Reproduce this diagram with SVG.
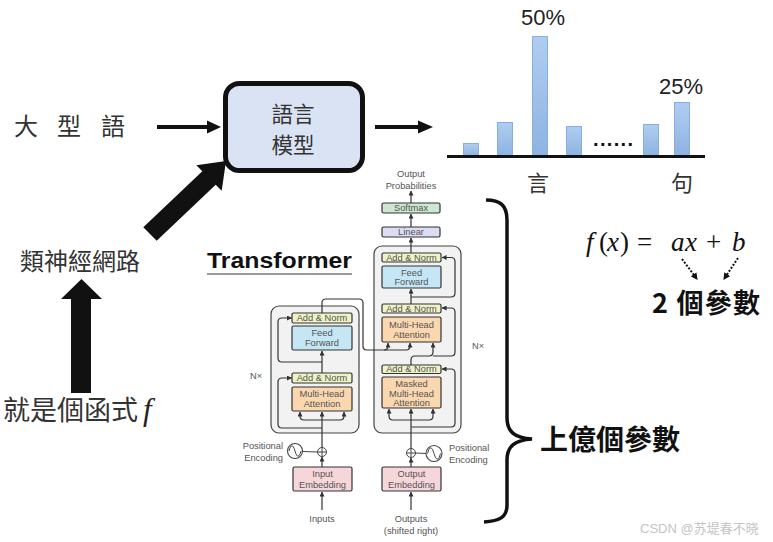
<svg xmlns="http://www.w3.org/2000/svg" width="773" height="542" viewBox="0 0 773 542">
<defs>
<style>
.cjk{font-family:"Noto Sans CJK TC","Noto Sans CJK SC",sans-serif;fill:#333}
.cjkb{font-family:"Noto Sans CJK TC","Noto Sans CJK SC",sans-serif;fill:#111;font-weight:bold}
.t{font-family:"Liberation Sans",Arial,sans-serif;font-size:9.3px;fill:#555;text-anchor:middle}
.blk{stroke:#333;stroke-width:1.2}
.ln{fill:none;stroke:#333;stroke-width:1.2}
.ar{marker-end:url(#a)}
.big{fill:#111}
.an{fill:#eef3c6}
.ff{fill:#c5e6f5}
.mha{fill:#fbd7b0}
.emb{fill:#f6d6da}
.bar{fill:url(#bg);stroke:#86aee0;stroke-width:1}
.math{font-family:"Liberation Serif","DejaVu Serif",serif;font-size:27px;fill:#111}
</style>
<marker id="a" viewBox="0 0 6 6" refX="5.5" refY="3" markerWidth="5" markerHeight="5" markerUnits="userSpaceOnUse" orient="auto"><path d="M0,0L6,3L0,6z" fill="#333"/></marker>
<marker id="d" viewBox="0 0 6 6" refX="5" refY="3" markerWidth="7" markerHeight="7" markerUnits="userSpaceOnUse" orient="auto"><path d="M0,0L6,3L0,6z" fill="#111"/></marker>
<linearGradient id="bg" x1="0" y1="0" x2="0" y2="1"><stop offset="0" stop-color="#b0cdf0"/><stop offset="1" stop-color="#8db3e2"/></linearGradient>
</defs>
<rect width="773" height="542" fill="#fff"/>

<g id="input-text">
<text class="cjk" x="26" y="135" font-size="24" text-anchor="middle">大</text>
<text class="cjk" x="69" y="135" font-size="24" text-anchor="middle">型</text>
<text class="cjk" x="113" y="135" font-size="24" text-anchor="middle">語</text>
</g>

<g id="language-model">
<rect x="225.5" y="83.5" width="137" height="87" rx="14" fill="#dae3f3" stroke="#111" stroke-width="5"/>
<text class="cjk" x="293" y="121.5" font-size="21.5" text-anchor="middle">語言</text>
<text class="cjk" x="293" y="153" font-size="21.5" text-anchor="middle">模型</text>
</g>

<g id="chart">
<rect class="bar" x="463.5" y="143.5" width="15" height="12.5"/>
<rect class="bar" x="497.5" y="122.5" width="15" height="33.5"/>
<rect class="bar" x="532.5" y="36.5" width="15" height="119.5"/>
<rect class="bar" x="566.5" y="126.5" width="15" height="29.5"/>
<rect class="bar" x="643.5" y="124.5" width="15" height="31.5"/>
<rect class="bar" x="674.5" y="102.5" width="15" height="53.5"/>
<line x1="447" y1="156.5" x2="705" y2="156.5" stroke="#111" stroke-width="3.2"/>
<text x="593" y="146" font-family="Liberation Sans,Arial,sans-serif" font-weight="bold" font-size="20" fill="#111" textLength="40" lengthAdjust="spacing">......</text>
<text x="543" y="25" font-family="Liberation Sans,Arial,sans-serif" font-size="22" fill="#222" text-anchor="middle">50%</text>
<text x="681" y="94" font-family="Liberation Sans,Arial,sans-serif" font-size="22" fill="#222" text-anchor="middle">25%</text>
<text class="cjk" x="538" y="191" font-size="22" text-anchor="middle">言</text>
<text class="cjk" x="682" y="191" font-size="22" text-anchor="middle">句</text>
</g>

<g id="neural-net-text">
<text class="cjk" x="20" y="270" font-size="24">類神經網路</text>
</g>

<g id="function-text">
<text class="cjk" x="3" y="420" font-size="27">就是個函式</text>
<text x="143" y="420" font-family="Liberation Serif,serif" font-style="italic" font-size="31" fill="#222">f</text>
</g>

<g id="transformer-title">
<text x="207" y="268" font-family="Liberation Sans,Arial,sans-serif" font-weight="bold" font-size="22" fill="#111" textLength="145" lengthAdjust="spacingAndGlyphs">Transformer</text>
<line x1="207" y1="274" x2="352" y2="274" stroke="#999" stroke-width="2"/>
</g>

<g id="encoder">
<rect x="271" y="306" width="88" height="127" rx="8" fill="#f2f2f2" stroke="#444" stroke-width="1.2"/>
<rect class="blk an" x="292" y="313" width="60" height="10" rx="1.5"/>
<text class="t" x="322" y="321.3">Add &amp; Norm</text>
<rect class="blk ff" x="292" y="326" width="60" height="24" rx="1.5"/>
<text class="t" x="322" y="336">Feed</text>
<text class="t" x="322" y="346">Forward</text>
<rect class="blk an" x="292" y="373" width="60" height="10" rx="1.5"/>
<text class="t" x="322" y="381.3">Add &amp; Norm</text>
<rect class="blk mha" x="292" y="387" width="60" height="24" rx="1.5"/>
<text class="t" x="322" y="397">Multi-Head</text>
<text class="t" x="322" y="407">Attention</text>
<text class="t" x="256" y="379">N×</text>
<rect class="blk emb" x="293" y="467" width="59" height="24" rx="1.5"/>
<text class="t" x="322.5" y="477">Input</text>
<text class="t" x="322.5" y="487.5">Embedding</text>
<circle cx="322" cy="452" r="4.5" fill="#fff" stroke="#444" stroke-width="1"/>
<path d="M317.5,452H326.5M322,447.5V456.5" stroke="#444" stroke-width="1"/>
<circle cx="295" cy="451" r="7.5" fill="#fff" stroke="#444" stroke-width="1.1"/>
<path d="M289,451C291,444 293,444 295,451C297,458 299,458 301,451" fill="none" stroke="#444" stroke-width="1"/>
<line x1="302.5" y1="451.5" x2="317.5" y2="452" stroke="#444" stroke-width="1"/>
<text class="t" x="283" y="449" style="text-anchor:end">Positional</text>
<text class="t" x="283" y="461" style="text-anchor:end">Encoding</text>
<text class="t" x="322" y="522">Inputs</text>
</g>

<g id="decoder">
<rect x="374" y="246" width="87" height="187" rx="8" fill="#f2f2f2" stroke="#444" stroke-width="1.2"/>
<rect class="blk" x="382" y="203" width="58" height="10" rx="1.5" fill="#cde8d1"/>
<text class="t" x="411" y="211.3">Softmax</text>
<rect class="blk" x="382" y="227" width="58" height="10" rx="1.5" fill="#dcdcf2"/>
<text class="t" x="411" y="235.3">Linear</text>
<rect class="blk an" x="382" y="253" width="59" height="9" rx="1.5"/>
<text class="t" x="411.5" y="260.8">Add &amp; Norm</text>
<rect class="blk ff" x="382" y="266" width="59" height="22" rx="1.5"/>
<text class="t" x="411.5" y="276">Feed</text>
<text class="t" x="411.5" y="285">Forward</text>
<rect class="blk an" x="382" y="304" width="59" height="9" rx="1.5"/>
<text class="t" x="411.5" y="311.8">Add &amp; Norm</text>
<rect class="blk mha" x="382" y="317" width="59" height="25" rx="1.5"/>
<text class="t" x="411.5" y="327.5">Multi-Head</text>
<text class="t" x="411.5" y="337.5">Attention</text>
<rect class="blk an" x="382" y="365" width="59" height="8.5" rx="1.5"/>
<text class="t" x="411.5" y="372.3">Add &amp; Norm</text>
<rect class="blk mha" x="382" y="377" width="59" height="31" rx="1.5"/>
<text class="t" x="411.5" y="387">Masked</text>
<text class="t" x="411.5" y="396.5">Multi-Head</text>
<text class="t" x="411.5" y="406">Attention</text>
<text class="t" x="478" y="349">N×</text>
<text class="t" x="411" y="177">Output</text>
<text class="t" x="411" y="189">Probabilities</text>
<rect class="blk emb" x="382" y="467" width="59" height="24" rx="1.5"/>
<text class="t" x="411.5" y="477">Output</text>
<text class="t" x="411.5" y="487.5">Embedding</text>
<circle cx="411" cy="453" r="4.5" fill="#fff" stroke="#444" stroke-width="1"/>
<path d="M406.5,453H415.5M411,448.5V457.5" stroke="#444" stroke-width="1"/>
<circle cx="434" cy="453.5" r="8" fill="#fff" stroke="#444" stroke-width="1.1"/>
<path d="M427.5,453.5C429.5,446 431.8,446 434,453.5C436.2,461 438.5,461 440.5,453.5" fill="none" stroke="#444" stroke-width="1"/>
<line x1="415.5" y1="453" x2="426" y2="453.5" stroke="#444" stroke-width="1"/>
<text class="t" x="449" y="451" style="text-anchor:start">Positional</text>
<text class="t" x="449" y="463" style="text-anchor:start">Encoding</text>
<text class="t" x="411" y="522">Outputs</text>
<text class="t" x="411" y="534">(shifted right)</text>
</g>

<g id="connectors">
<line x1="157" y1="127" x2="209" y2="127" stroke="#111" stroke-width="4"/>
<polygon class="big" points="207,120.5 221,127 207,133.5"/>
<line x1="375" y1="127" x2="420" y2="127" stroke="#111" stroke-width="4"/>
<polygon class="big" points="418,120.5 433,127 418,133.5"/>
<polygon class="big" points="143.3,227.3 202.3,171.3 196.3,165.3 226,161 221.7,190.7 215.7,184.7 156.7,240.7"/>
<polygon class="big" points="71,393 71,299 61,299 81.5,279 102,299 91,299 91,393"/>
<path class="ln ar" d="M322,510V492"/>
<path class="ln ar" d="M322,467V457"/>
<path class="ln ar" d="M322,447.5V412"/>
<path class="ln ar" d="M322,420H304Q300,420 300,416V412"/>
<path class="ln ar" d="M322,420H340Q344,420 344,416V412"/>
<path class="ln ar" d="M322,428H282Q278,428 278,424V382Q278,378 282,378H291.5"/>
<path class="ln ar" d="M322,373V351"/>
<path class="ln ar" d="M322,362H282Q278,362 278,358V322Q278,318 282,318H291.5"/>
<path class="ln ar" d="M322,313V303Q322,299 326,299H359Q363,299 363,303V346Q363,350 367,350H406Q410,350 410,346V343"/>
<path class="ln ar" d="M384,350Q388,350 388,346V343"/>
<path class="ln ar" d="M411,510V492"/>
<path class="ln ar" d="M411,467V458"/>
<path class="ln ar" d="M411,448.5V409"/>
<path class="ln ar" d="M411,420H393Q389,420 389,416V409"/>
<path class="ln ar" d="M411,420H429Q433,420 433,416V409"/>
<path class="ln ar" d="M411,427H451Q455,427 455,423V373Q455,369 451,369H442"/>
<path class="ln ar" d="M411,365V360Q411,356 415,356H429Q433,356 433,352V343"/>
<path class="ln ar" d="M433,356H451Q455,356 455,352V312Q455,308 451,308H442"/>
<path class="ln ar" d="M411,304V289"/>
<path class="ln ar" d="M411,297H451Q455,297 455,293V261.5Q455,257.5 451,257.5H442"/>
<path class="ln ar" d="M411,253V238"/>
<path class="ln ar" d="M411,227V214"/>
<path class="ln ar" d="M411,203V191"/>
<line x1="682" y1="259" x2="697" y2="279" stroke="#111" stroke-width="2" stroke-dasharray="2,1.6" marker-end="url(#d)"/>
<line x1="738" y1="258" x2="724" y2="279" stroke="#111" stroke-width="2" stroke-dasharray="2,1.6" marker-end="url(#d)"/>
</g>

<g id="brace">
<path d="M486,200C500,200 507,205 507,220V418C507,432 515,438 532,439C515,440 507,446 507,460V505C507,517 500,521 484,522" fill="none" stroke="#111" stroke-width="3.5"/>
</g>

<g id="formula">
<text class="math"><tspan x="586" y="251" font-style="italic">f</tspan><tspan x="599" y="251">(</tspan><tspan x="607" y="251" font-style="italic">x</tspan><tspan x="620" y="251">)</tspan><tspan x="637" y="251">=</tspan><tspan x="671" y="251" font-style="italic">a</tspan><tspan x="685" y="251" font-style="italic">x</tspan><tspan x="706" y="251">+</tspan><tspan x="732" y="251" font-style="italic">b</tspan></text>
</g>

<g id="two-params">
<text class="cjkb" x="652" y="313" font-size="27" textLength="108" lengthAdjust="spacing">2 個參數</text>
</g>

<g id="many-params">
<text class="cjkb" x="540" y="450" font-size="28">上億個參數</text>
</g>

<g id="watermark">
<text x="640" y="533" font-family="Liberation Sans,'Noto Sans CJK SC',sans-serif" font-size="13" fill="#c4c4c4">CSDN @苏堤春不晓</text>
</g>
</svg>
